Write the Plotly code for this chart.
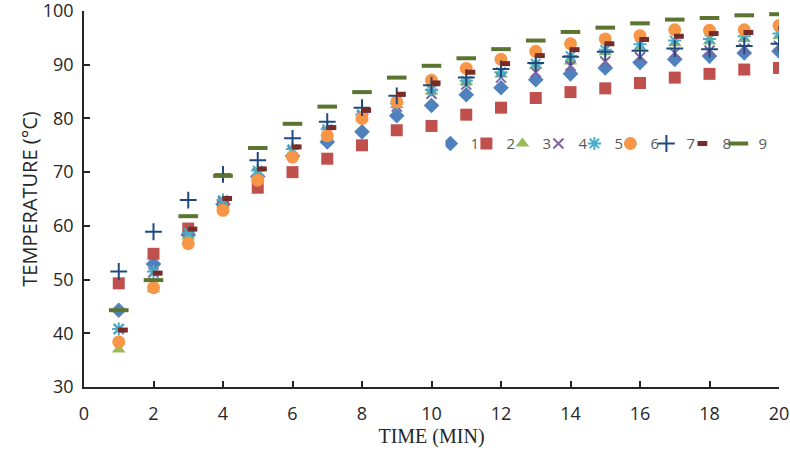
import plotly.graph_objects as go

time_min = list(range(1, 21))

s1 = [44.3, 52.9, 58.3, 64.0, 69.2, 73.0, 75.6, 77.5, 80.5, 82.4, 84.4, 85.7, 87.2, 88.3, 89.4, 90.4, 91.0, 91.6, 92.2, 92.5]
s2 = [49.3, 54.8, 59.5, 63.6, 67.1, 70.0, 72.5, 75.0, 77.8, 78.6, 80.7, 82.0, 83.8, 84.9, 85.6, 86.6, 87.6, 88.3, 89.1, 89.4]
s3 = [37.0, 48.2, 58.0, 64.0, 69.5, 73.5, 76.5, 80.0, 82.5, 85.0, 86.8, 88.2, 89.8, 90.6, 92.3, 93.2, 94.0, 94.3, 94.8, 95.3]
s4 = [40.8, 51.3, 58.8, 64.5, 69.8, 74.0, 77.5, 80.5, 82.2, 84.6, 86.3, 87.6, 88.6, 89.8, 90.6, 91.4, 92.2, 92.6, 93.0, 93.5]
s5 = [40.8, 51.5, 58.7, 64.8, 70.3, 74.3, 78.0, 80.8, 82.8, 85.3, 87.0, 88.6, 90.2, 91.6, 92.8, 93.8, 94.5, 94.8, 95.3, 95.8]
s6 = [38.4, 48.5, 56.7, 62.9, 68.5, 72.8, 76.8, 80.0, 83.1, 87.1, 89.3, 91.0, 92.5, 93.9, 94.8, 95.4, 96.5, 96.4, 96.5, 97.3]
s7 = [51.5, 58.9, 64.8, 69.6, 72.2, 76.3, 79.4, 82.0, 84.2, 86.2, 87.6, 89.2, 90.3, 91.5, 92.4, 92.6, 93.0, 92.9, 93.5, 93.9]
s8 = [40.6, 51.2, 59.4, 65.1, 70.6, 74.7, 78.3, 81.5, 84.5, 86.6, 88.6, 90.2, 91.7, 92.8, 93.9, 94.7, 95.3, 95.8, 96.0, 96.8]
s9 = [44.3, 49.9, 61.8, 69.3, 74.5, 79.0, 82.2, 84.9, 87.6, 89.8, 91.2, 92.9, 94.5, 96.1, 96.9, 97.7, 98.4, 98.7, 99.2, 99.4]

series_names = ["1", "2", "3", "4", "5", "6", "7", "8", "9"]
series_values = [s1, s2, s3, s4, s5, s6, s7, s8, s9]

x_tick_vals = list(range(0, 21, 2))
y_tick_vals = list(range(30, 101, 10))

# styles
styles = [
    dict(symbol="diamond", size=12, color="#4F81BD", line=dict(width=0)),
    dict(symbol="square", size=12, color="#C0504D", line=dict(width=0)),
    dict(symbol="triangle-up", size=12, color="#9BBB59", line=dict(width=0)),
    dict(symbol="x-thin-open", size=10, color="#8064A2", line=dict(width=2, color="#8064A2")),
    dict(symbol="asterisk-open", size=11, color="#4BACC6", line=dict(width=2, color="#4BACC6")),
    dict(symbol="circle", size=13, color="#F79646", line=dict(width=0)),
    dict(symbol="cross-thin-open", size=12, color="#1F497D", line=dict(width=2, color="#1F497D")),
    dict(symbol="line-ew", size=7, color="#772C2A", line=dict(width=5, color="#772C2A")),
    dict(symbol="line-ew", size=14, color="#5B7530", line=dict(width=4, color="#5B7530")),
]
DASH8_SHIFT = 0.12

fig = go.Figure()
for i, (name, vals) in enumerate(zip(series_names, series_values)):
    xs = [t + DASH8_SHIFT for t in time_min] if name == "8" else time_min
    fig.add_trace(go.Scatter(x=xs, y=vals, mode="markers", name=name,
                             marker=styles[i]))

tick_font = dict(family="Open Sans, sans-serif", size=18, color="#262626")

fig.update_layout(
    template="none",
    width=790, height=456,
    margin=dict(l=84, r=11, t=11, b=69),
    plot_bgcolor="white", paper_bgcolor="white",
    showlegend=True,
    legend=dict(orientation="h", x=0.52, y=0.647, xanchor="left", yanchor="middle",
                font=dict(family="Open Sans, sans-serif", size=15, color="#595959"),
                bgcolor="rgba(0,0,0,0)", borderwidth=0, itemwidth=30, entrywidth=6,
                entrywidthmode="pixels", tracegroupgap=0, indentation=-15),
    xaxis=dict(range=[0, 20], tickvals=x_tick_vals, ticks="inside", ticklen=6, tickwidth=1.5,
               tickcolor="#262626", showline=True, linecolor="#262626", linewidth=1.5,
               showgrid=False, zeroline=False, tickfont=tick_font, ticklabelstandoff=10,
               automargin=False, ticklabeloverflow="allow",
               title=dict(text="TIME (MIN)", font=dict(family="Liberation Serif, serif", size=20, color="#262626"),
                          standoff=3)),
    yaxis=dict(range=[30, 100], tickvals=y_tick_vals, ticks="inside", ticklen=6, tickwidth=1.5,
               tickcolor="#262626", showline=True, linecolor="#262626", linewidth=1.5,
               showgrid=False, zeroline=False, tickfont=tick_font, ticklabelstandoff=5,
               automargin=False, ticklabeloverflow="allow",
               title=dict(text="TEMPERATURE (°C)", font=dict(family="Open Sans, sans-serif", size=20, color="#262626"),
                          standoff=0)),
)

fig.write_html("out.html", config={"displayModeBar": False},
               post_script="document.body.style.margin='0';document.body.style.overflow='hidden';")
